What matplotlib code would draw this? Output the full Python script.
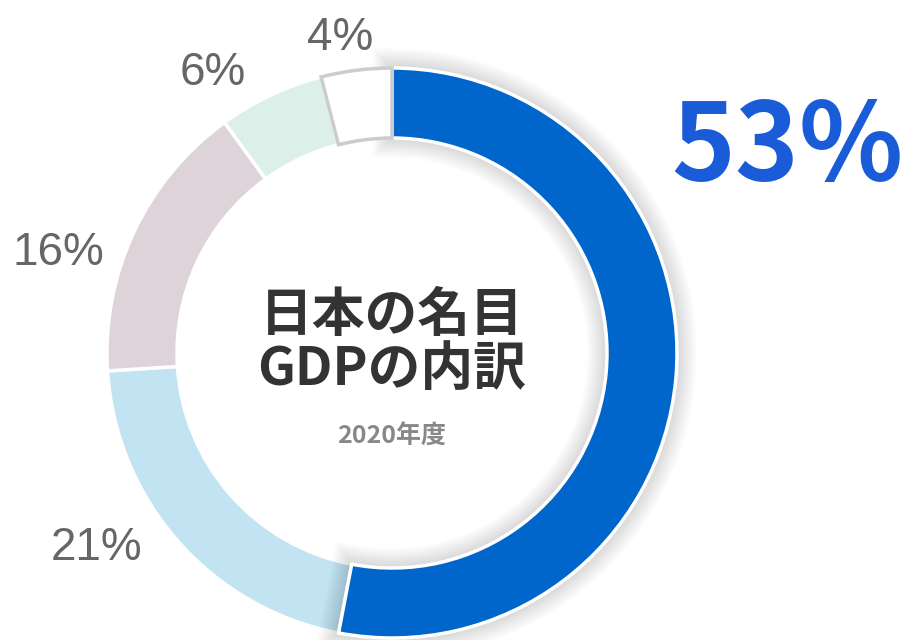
import matplotlib.pyplot as plt
from matplotlib.patches import Wedge

plt.rcParams['font.family'] = ['Liberation Sans', 'DejaVu Sans']

# GDP share by component (2020)
shares = [53, 21, 16, 6, 4]
share_labels = ['53%', '21%', '16%', '6%', '4%']
colors = ['#0066cc', '#c1e3f2', '#ddd3d8', '#dcf0e9', '#ffffff']
title_lines = ['日本の名目', 'GDPの内訳']
subtitle = '2020年度'

W, H = 909, 640
fig = plt.figure(figsize=(W / 100, H / 100), dpi=100)
ax = fig.add_axes([0, 0, 1, 1])

cx, cy = 392, 287
radius = 285
ring = 70
jp = ['Noto Sans CJK JP', 'DejaVu Sans']

wedges, _ = ax.pie(shares, radius=radius, center=(cx, cy), colors=colors,
                   startangle=90, counterclock=False,
                   explode=[0, 0, 0, 0, -0.015],
                   wedgeprops=dict(width=ring, edgecolor='white', linewidth=2.5))

# soft shadow under the main slice
big = wedges[0]
big.set_zorder(3)
for k in range(1, 14):
    sh = Wedge(big.center, big.r, big.theta1, big.theta2, width=big.width,
               facecolor='none', edgecolor='black', linewidth=2.2 * k,
               alpha=0.012, zorder=2.5)
    ax.add_patch(sh)

# the small slice is drawn white with a grey outline
wedges[4].set_edgecolor('#cccccc')
wedges[4].set_linewidth(2.5)
wedges[4].set_zorder(4)

# percentage labels around the ring
label_pos = {'21%': (97, 92), '16%': (58, 387), '6%': (213, 567), '4%': (340, 602)}
for lab in share_labels[1:]:
    x, y = label_pos[lab]
    ax.text(x, y, lab, fontsize=33, color='#666666', ha='center', va='center')

# big highlight for the main slice
ax.text(671, 460, share_labels[0], fontsize=78, color='#1a5cd8', fontweight='bold',
        family=jp, ha='left', va='baseline')

ax.text(cx, 325, title_lines[0], fontsize=38, color='#333333', fontweight='bold',
        family=jp, ha='center', va='center')
ax.text(cx, 270, title_lines[1], fontsize=38, color='#333333', fontweight='bold',
        family=jp, ha='center', va='center')
ax.text(cx, 203, subtitle, fontsize=18, color='#888888', fontweight='bold',
        family=jp, ha='center', va='center')

ax.set_xlim(0, W)
ax.set_ylim(0, H)
ax.set_aspect('equal')
ax.axis('off')

fig.savefig('out.png', dpi=100)
